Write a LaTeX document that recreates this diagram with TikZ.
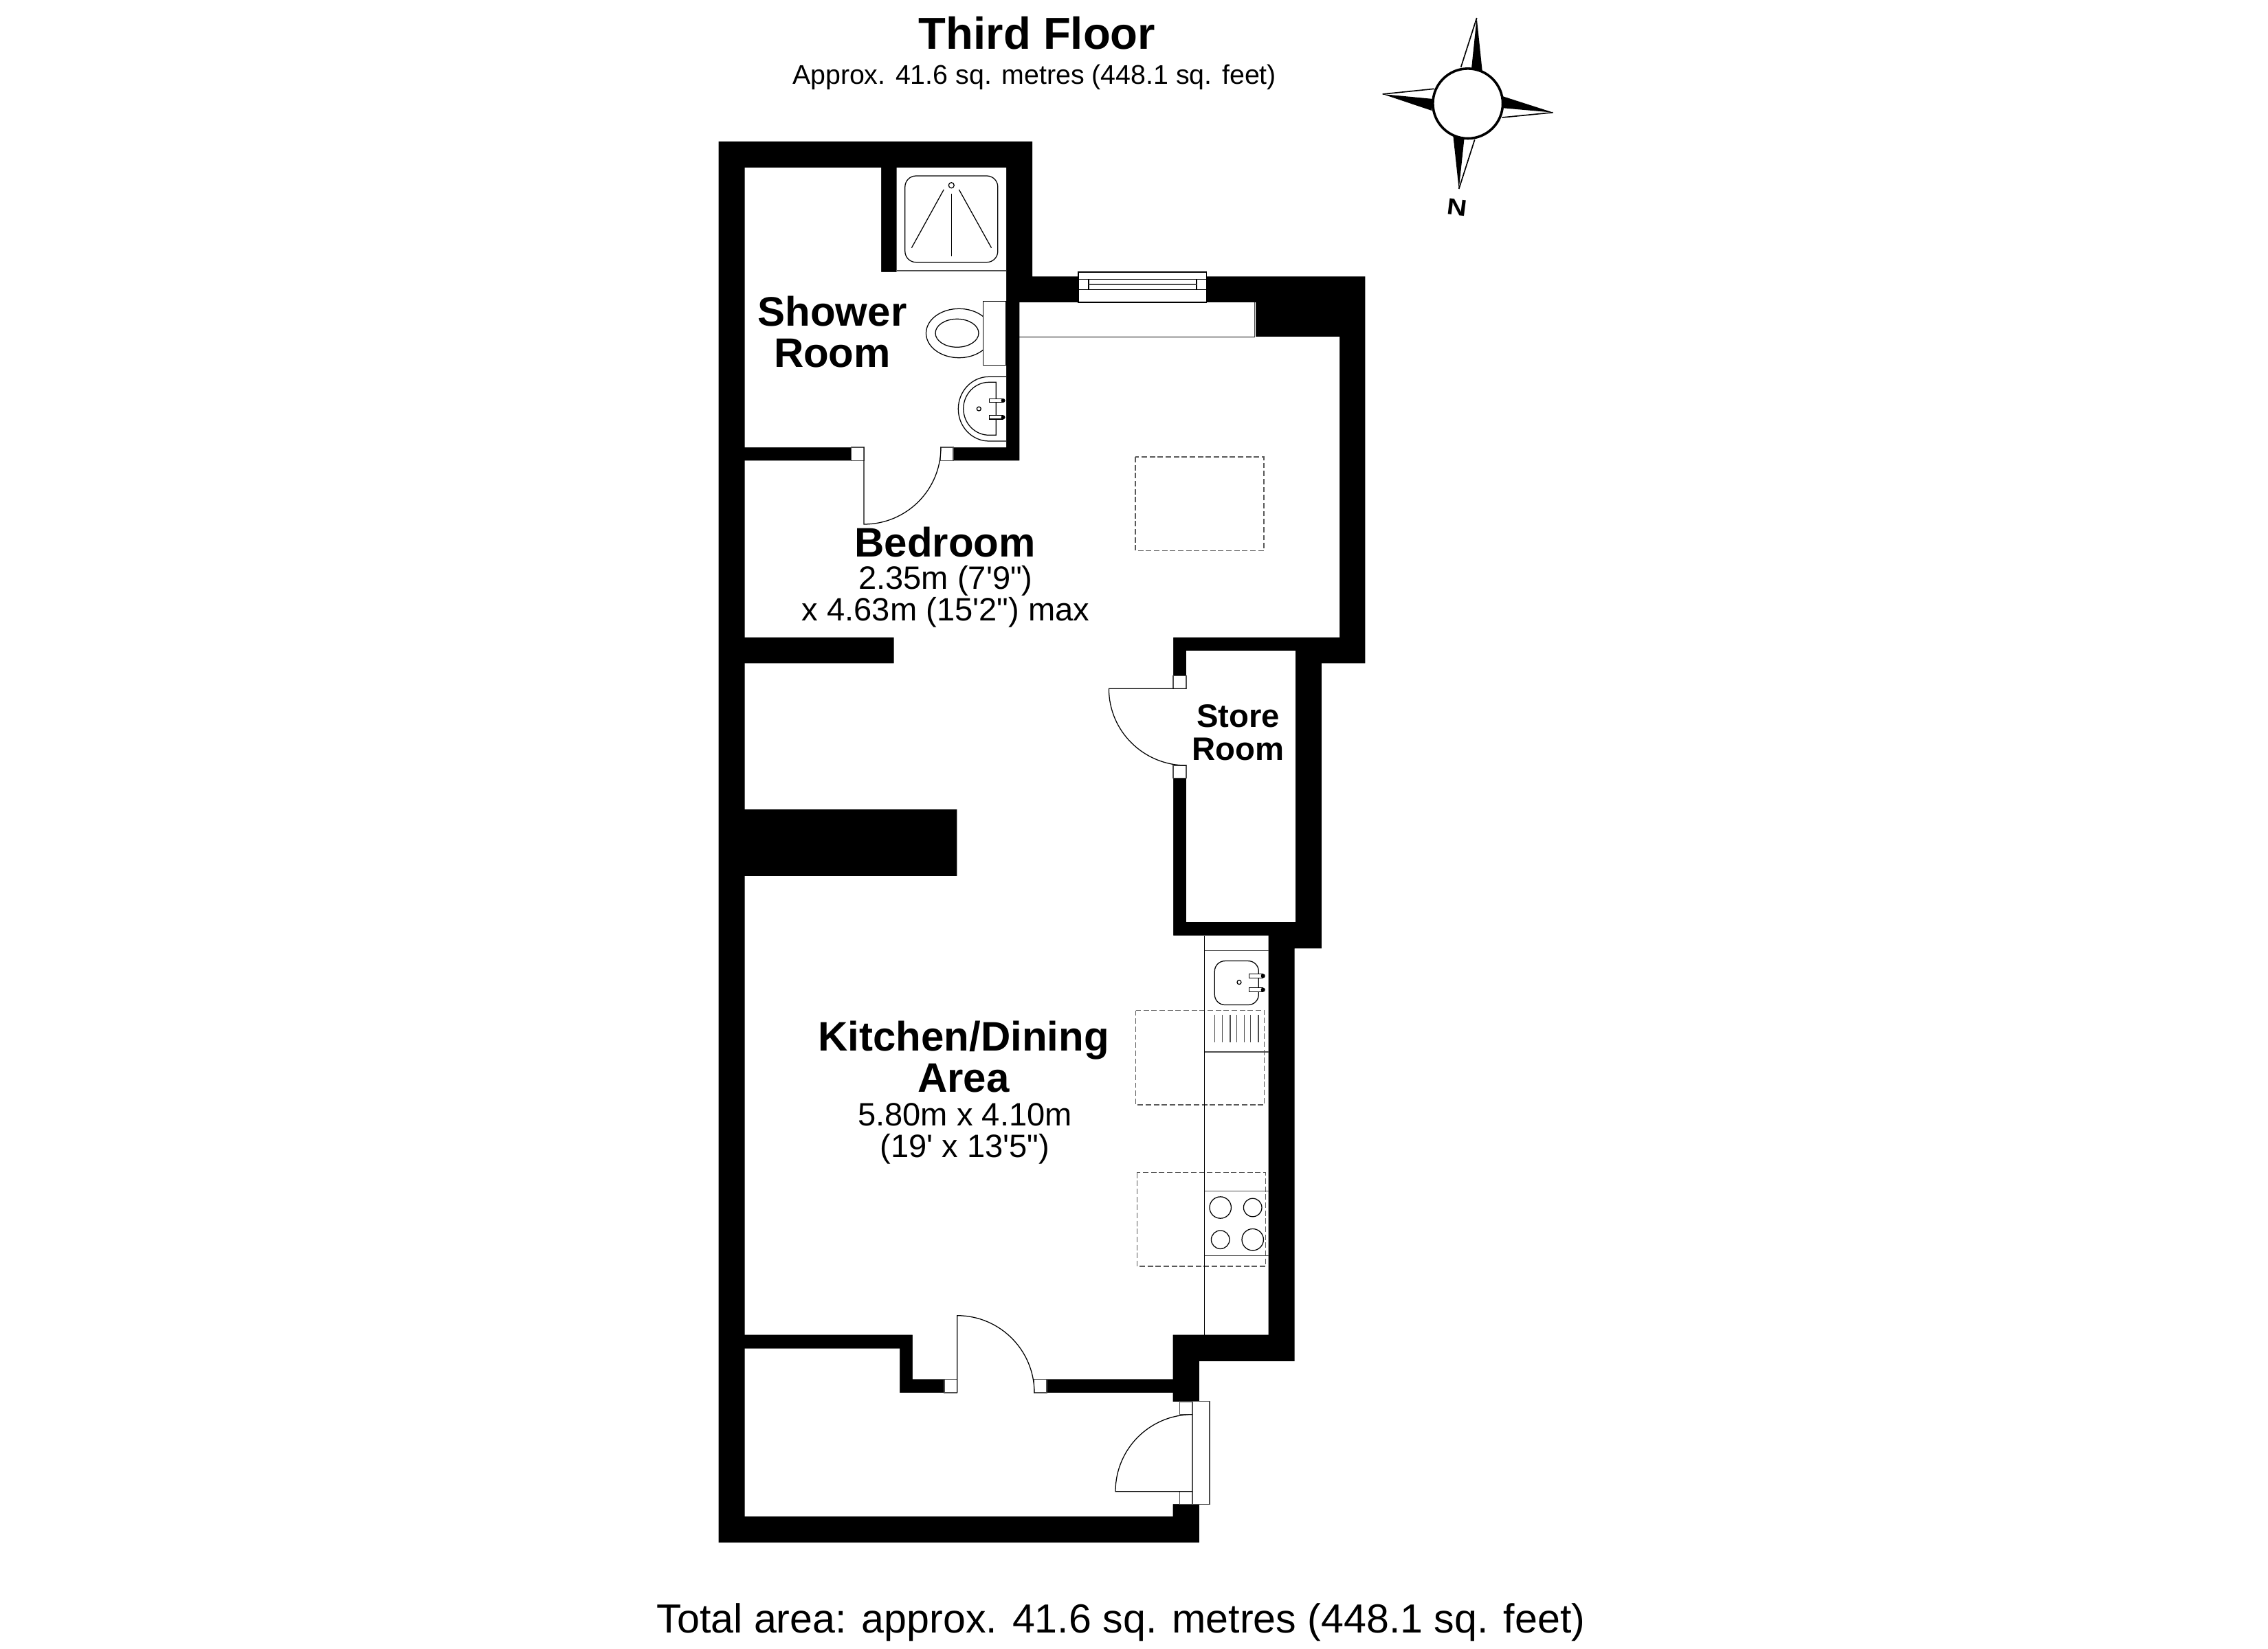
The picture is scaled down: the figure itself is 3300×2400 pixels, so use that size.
\documentclass[tikz,border=0pt]{standalone}
\usepackage{fontspec}
\newfontfamily\lib{Liberation Sans}
\tikzset{
  wallfill/.style={fill=black,draw=none},
  roomfill/.style={fill=white,draw=none},
  jamb/.style={fill=white,draw=black!70,line width=0.3pt},
  fixture/.style={draw=black,line width=0.3pt},
  fixwhite/.style={fill=white,draw=black,line width=0.3pt},
  counter/.style={draw=black!70,line width=0.3pt},
  hidden/.style={draw=black!65,line width=0.3pt,dash pattern=on 1.9pt off 0.9pt},
  txt/.style={inner sep=0pt,align=center,text=black},
  bigtitle/.style={txt,font=\lib\bfseries\fontsize{15.65}{18}\selectfont},
  subtitle/.style={txt,font=\lib\fontsize{9.44}{11}\selectfont},
  totaltxt/.style={txt,font=\lib\fontsize{14.2}{17}\selectfont},
  roomname/.style={txt,font=\lib\bfseries\fontsize{14.4}{14.6}\selectfont},
  smallname/.style={txt,font=\lib\bfseries\fontsize{11.35}{11.5}\selectfont},
  dims/.style={txt,font=\lib\fontsize{11.3}{11.1}\selectfont},
}
\begin{document}
\begin{tikzpicture}[x=0.24pt,y=-0.24pt]
\useasboundingbox (0,0) rectangle (3300,2400);
% walls
\path[wallfill] (1045.5,206) -- (1502,206) -- (1502,402.3) -- (1986.4,402.3) -- (1986.4,965.4) -- (1922.8,965.4) -- (1922.8,1380.3) -- (1883.6,1380.3) -- (1883.6,1981) -- (1744.8,1981) -- (1744.8,2245) -- (1045.5,2245) -- cycle;
% rooms
\path[roomfill] (1083.7,243.8) -- (1282,243.8) -- (1282,395.8) -- (1304.6,395.8) -- (1304.6,243.8) -- (1464,243.8) -- (1464,651) -- (1083.7,651) -- cycle;
\path[roomfill] (1083.7,670.3) -- (1483.3,670.3) -- (1483.3,440.2) -- (1827,440.2) -- (1827,490.2) -- (1949,490.2) -- (1949,927.5) -- (1707,927.5) -- (1707,1361.5) -- (1845.7,1361.5) -- (1845.7,1942.7) -- (1706.7,1942.7) -- (1706.7,2007.3) -- (1327.9,2007.3) -- (1327.9,1942.7) -- (1083.7,1942.7) -- (1083.7,1275) -- (1392.4,1275) -- (1392.4,1177.8) -- (1083.7,1177.8) -- (1083.7,965.4) -- (1300.7,965.4) -- (1300.7,927.6) -- (1083.7,927.6) -- cycle;
\path[roomfill] (1726,947) -- (1885.3,947) -- (1885.3,1342) -- (1726,1342) -- cycle;
\path[roomfill] (1083.7,1962.7) -- (1309,1962.7) -- (1309,2027) -- (1706.7,2027) -- (1706.7,2040) -- (1735,2040) -- (1735,2189) -- (1706.7,2189) -- (1706.7,2207) -- (1083.7,2207) -- cycle;
% door openings
\path[roomfill] (1238.4,650) rectangle (1387,671);
\path[roomfill] (1706,983.8) rectangle (1727,1132.3);
\path[roomfill] (1374,2006) rectangle (1523,2028);
% jambs
\path[jamb] (1238.4,651) rectangle (1257.2,670.3);
\path[jamb] (1368.5,651) rectangle (1387,670.3);
\path[jamb] (1707,983.8) rectangle (1726,1002.2);
\path[jamb] (1707,1114) rectangle (1726,1132.3);
\path[jamb] (1374,2007.3) rectangle (1392.7,2027);
\path[jamb] (1504.8,2007.3) rectangle (1523,2027);
\path[jamb] (1716.4,2040) rectangle (1735,2058.7);
\path[jamb] (1716.4,2170.7) rectangle (1735,2189.3);
% entrance door frame
\path[jamb] (1735,2039.7) rectangle (1760,2189.7);
% door leaves
\draw[fixture] (1369,651) .. controls (1369,713) and (1319,763) .. (1257,763) -- (1257,651);
\draw[fixture] (1726,1002.2) -- (1613.4,1002.2) .. controls (1613.4,1064.2) and (1664,1114) .. (1726,1114);
\draw[fixture] (1392.7,2027) -- (1392.7,1914.7) .. controls (1454.7,1914.7) and (1505,1965) .. (1505,2027);
\draw[fixture] (1735,2170.7) -- (1623,2170.7) .. controls (1623,2108.7) and (1673,2058.7) .. (1735,2058.7);
% window
\path[fixwhite] (1569,396) rectangle (1755.7,440);
\draw[fixture] (1569,406.3) -- (1755.7,406.3) (1569,421.3) -- (1755.7,421.3);
\draw[fixture] (1584,406.3) -- (1584,421.3) (1741,406.3) -- (1741,421.3);
\draw[counter,line width=0.5pt] (1584,413.7) -- (1741,413.7);
% chimney breast recess
\draw[fixture] (1483.3,490.3) -- (1825.5,490.3);
\draw[counter] (1825.5,490.3) -- (1825.5,440.2);
% hidden rectangles
\draw[hidden] (1652,665) rectangle (1839,801.4);
\draw[hidden] (1652.7,1470.5) rectangle (1839.7,1607.9);
\draw[hidden] (1654.3,1706.6) rectangle (1841.3,1842.9);
% shower
\draw[counter] (1304.6,394) -- (1464,394);
\draw[fixture,rounded corners=3.84pt] (1316.8,256) rectangle (1451.8,381.7);
\draw[fixture] (1384.3,269.7) circle (0.96pt);
\draw[fixture] (1384.3,281.7) -- (1384.3,372.7);
\draw[fixture] (1373.2,276) -- (1326.4,360.7);
\draw[fixture] (1395.4,276) -- (1442.5,360.7);
% toilet
\draw[fixture] (1395.4,485) ellipse [x radius=11.5pt,y radius=8.57pt];
\draw[fixture] (1392.5,484.8) ellipse [x radius=7.56pt,y radius=4.92pt];
\path[fixwhite] (1430.4,438.3) rectangle (1464,531.7);
% basin
\draw[fixture] (1464,548.3) -- (1439,548.3) .. controls (1414.3,548.3) and (1394.3,569.3) .. (1394.3,595.2) .. controls (1394.3,621.1) and (1414.3,642) .. (1439,642) -- (1464,642);
\draw[fixture] (1449.3,556.3) -- (1439,556.3) .. controls (1418.6,556.3) and (1401.8,573.5) .. (1401.8,594.8) .. controls (1401.8,616.1) and (1418.6,633.3) .. (1439,633.3) -- (1449.3,633.3) -- cycle;
\draw[fixture] (1424.3,595) circle (0.72pt);
\path[fixwhite] (1439.6,580.3) rectangle (1459.6,585.7);
\path[fixwhite] (1439.6,604.7) rectangle (1459.6,610);
\fill[black] (1459.6,583) circle (0.72pt) (1459.6,607.3) circle (0.72pt);
% kitchen counter
\draw[fixture] (1752.5,1361.5) -- (1752.5,1942.7);
\draw[counter] (1752.5,1383.2) -- (1845.7,1383.2) (1752.5,1531) -- (1845.7,1531) (1752.5,1733.8) -- (1845.7,1733.8) (1752.5,1827.6) -- (1845.7,1827.6);
% sink
\draw[fixture,rounded corners=3.6pt] (1767.3,1398.6) rectangle (1831.3,1462.5);
\draw[fixture] (1803,1429.6) circle (0.72pt);
\path[fixwhite] (1817.7,1417.3) rectangle (1837.7,1423.4);
\path[fixwhite] (1817.7,1437.6) rectangle (1837.7,1443.7);
\fill[black] (1837.7,1420.4) circle (0.75pt) (1837.7,1440.6) circle (0.75pt);
% drainer
\draw[counter] (1767.3,1477) -- (1767.3,1516.8) (1778.7,1477) -- (1778.7,1516.8) (1790,1477) -- (1790,1516.8) (1799.3,1477) -- (1799.3,1516.8) (1810.7,1477) -- (1810.7,1516.8) (1819.7,1477) -- (1819.7,1516.8) (1831,1477) -- (1831,1516.8);
% hob
\draw[fixture] (1775.7,1757.5) circle (3.77pt);
\draw[fixture] (1822.7,1757.5) circle (3.19pt);
\draw[fixture] (1775.7,1804.2) circle (3.19pt);
\draw[fixture] (1822.7,1804.2) circle (3.77pt);
% compass
\draw[fixture,line width=0.4pt] (2148.7,26) -- (2125.7,97.7);
\draw[fixture,line width=0.4pt] (2259.7,163.7) -- (2185.7,171);
\draw[fixture,line width=0.4pt] (2122.7,275) -- (2145.7,203.3);
\draw[fixture,line width=0.4pt] (2011.7,137) -- (2086.7,129.3);
\fill[black] (2148.7,26) -- (2141,100) -- (2156.7,103) -- cycle;
\fill[black] (2259.7,163.7) -- (2186,140) -- (2184,157) -- cycle;
\fill[black] (2122.7,275) -- (2114.3,197) -- (2130.7,200) -- cycle;
\fill[black] (2011.7,137) -- (2085,144) -- (2083.3,161) -- cycle;
\draw[fill=white,draw=black,line width=0.86pt] (2135.7,150.7) circle (12.2pt);
% texts
\node[bigtitle] (floortitle) at (1509,48) {Third Floor};
\node[subtitle] (floorarea) at (1505,112) {Approx. 41.6 sq. metres (448.1 sq. feet)};
\node[totaltxt] (totalarea) at (1631,2361) {Total area: approx. 41.6 sq. metres (448.1 sq. feet)};
\node[roomname] (shower) at (1211,483) {Shower\\Room};
\node[roomname] (bedroom) at (1375,789) {Bedroom};
\node[dims] (beddims) at (1376,868) {2.35m (7'9")\\x 4.63m (15'2") max};
\node[smallname] (store) at (1801.6,1066) {Store\\Room};
\node[roomname] (kitchen) at (1402,1538) {Kitchen/Dining\\Area};
\node[dims] (kitdims) at (1404,1650) {5.80m x 4.10m\\(19' x 13'5")};
\node[txt,font=\lib\bfseries\fontsize{8}{9}\selectfont,rotate=-7,xscale=1.2] (north) at (2120,301.7) {N};
\end{tikzpicture}
\end{document}
